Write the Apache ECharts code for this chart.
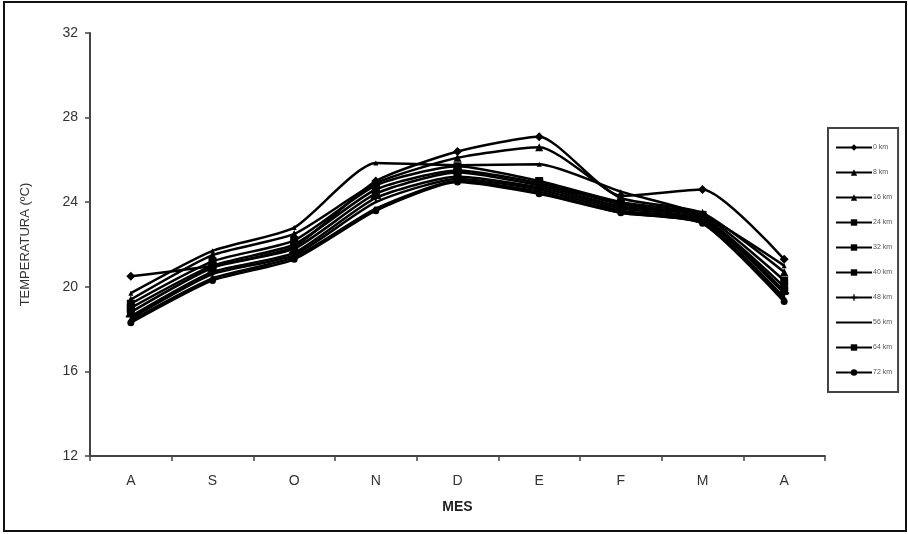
<!DOCTYPE html>
<html><head><meta charset="utf-8">
<script src="https://cdn.jsdelivr.net/npm/echarts@6/dist/echarts.min.js"></script>
<style>html,body{margin:0;padding:0;background:#fff}#c{width:908px;height:534px}</style>
</head><body><div id="c"></div>
<script>
var categories = ['A','S','O','N','D','E','F','M','A'];
var yTicks = [12,16,20,24,28,32];
var seriesNames = ['0 km','8 km','16 km','24 km','32 km','40 km','48 km','56 km','64 km','72 km'];
var s0  = [20.5,21.0,21.9,25.0,26.4,27.1,24.3,24.6,21.3];
var s8  = [19.7,21.7,22.8,25.85,25.75,25.8,24.5,23.4,21.0];
var s16 = [19.4,21.5,22.5,24.9,26.1,26.6,24.2,23.5,20.7];
var s24 = [19.2,21.2,22.2,24.8,25.7,25.0,24.0,23.4,20.3];
var s32 = [19.0,21.0,22.0,24.6,25.5,24.9,23.9,23.3,20.0];
var s40 = [18.8,20.9,21.8,24.4,25.4,24.8,23.8,23.3,19.8];
var s48 = [18.6,20.7,21.6,24.2,25.2,24.7,23.7,23.2,19.7];
var s56 = [18.5,20.6,21.5,24.0,25.1,24.6,23.6,23.1,19.5];
var s64 = [18.4,20.4,21.4,23.7,25.0,24.5,23.5,23.0,19.4];
var s72 = [18.3,20.3,21.3,23.6,24.95,24.4,23.5,23.0,19.3];
var allData = [s0,s8,s16,s24,s32,s40,s48,s56,s64,s72];

var crossPath = 'path://M4,0H6V4H10V6H6V10H4V6H0V4H4Z';
var symbols = ['diamond','triangle','triangle','rect','rect','rect',crossPath,'none','rect','circle'];
var sizes = [9,5,8,8,8,8,10,0,4,7];

var chart = echarts.init(document.getElementById('c'));
var series = seriesNames.map(function(n,i){
  return {
    name:n, type:'line', data:allData[i], smooth:0.2,
    symbol:symbols[i], symbolSize:sizes[i], showSymbol:symbols[i]!=='none',
    lineStyle:{color:'#000',width:2.5},
    itemStyle:{color:'#000'},
    emphasis:{disabled:true}, animation:false
  };
});
var legendData = seriesNames.map(function(n,i){
  var d = {name:n};
  if (symbols[i]==='none') d.itemStyle = {color:'rgba(0,0,0,0)',borderWidth:0};
  return d;
});
chart.setOption({
  animation:false,
  backgroundColor:'#fff',
  grid:{left:90,right:83,top:33,bottom:78,containLabel:false},
  xAxis:{
    type:'category', data:categories, boundaryGap:true,
    name:'MES', nameLocation:'middle', nameGap:44,
    nameTextStyle:{fontFamily:'Liberation Sans',fontWeight:'bold',fontSize:14,color:'#222'},
    axisLine:{lineStyle:{color:'#444',width:2}},
    axisTick:{show:true,length:5,inside:false,lineStyle:{color:'#444',width:1.5},alignWithLabel:false},
    axisLabel:{fontFamily:'Liberation Sans',fontSize:14,color:'#333',margin:18},
    splitLine:{show:false}
  },
  yAxis:{
    type:'value', min:12, max:32, interval:4,
    name:'TEMPERATURA (ºC)', nameLocation:'middle', nameGap:58, nameRotate:90,
    nameTextStyle:{fontFamily:'Liberation Sans',fontSize:13,color:'#333'},
    axisLine:{show:true,lineStyle:{color:'#444',width:2}},
    axisTick:{show:true,length:5,lineStyle:{color:'#444',width:1.5}},
    axisLabel:{fontFamily:'Liberation Sans',fontSize:14,color:'#333',margin:12,
      formatter:function(v){return yTicks.indexOf(v)>=0?String(v):'';}},
    splitLine:{show:false}
  },
  legend:{
    orient:'vertical', left:828, top:128,
    itemWidth:36, itemHeight:8, itemGap:18,
    padding:[16,6,16,7],
    borderColor:'#444', borderWidth:2,
    textStyle:{fontFamily:'Liberation Sans',fontSize:7,color:'#555',padding:[0,0,0,-4]},
    data:legendData, selectedMode:false, inactiveColor:'#000'
  },
  graphic:[{type:'rect',shape:{x:4,y:2,width:902,height:529},style:{fill:null,stroke:'#111',lineWidth:2},silent:true}],
  series:series
});
</script></body></html>
